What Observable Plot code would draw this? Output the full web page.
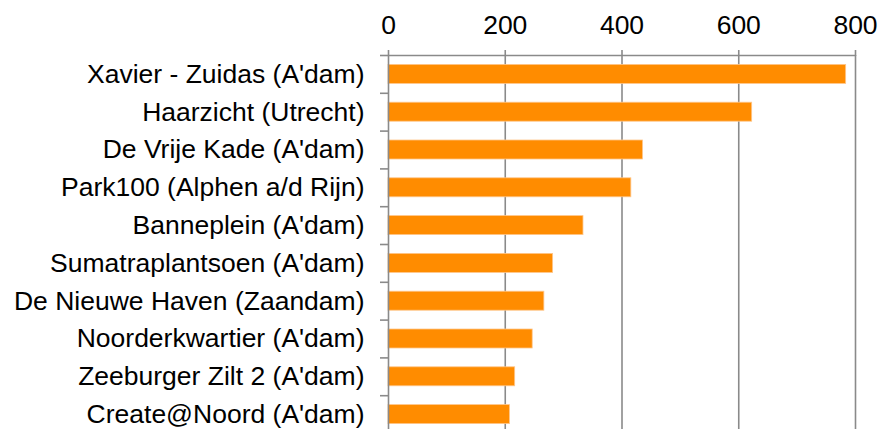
<!DOCTYPE html>
<html>
<head>
<meta charset="utf-8">
<script src="https://cdn.jsdelivr.net/npm/d3@7"></script>
<script src="https://cdn.jsdelivr.net/npm/@observablehq/plot@0.6"></script>
<style>
  html, body { margin: 0; padding: 0; background: #fff; }
  svg { display: block; }
</style>
</head>
<body>
<div id="chart"></div>
<script>
const names = [
  "Xavier - Zuidas (A'dam)",
  "Haarzicht (Utrecht)",
  "De Vrije Kade (A'dam)",
  "Park100 (Alphen a/d Rijn)",
  "Banneplein (A'dam)",
  "Sumatraplantsoen (A'dam)",
  "De Nieuwe Haven (Zaandam)",
  "Noorderkwartier (A'dam)",
  "Zeeburger Zilt 2 (A'dam)",
  "Create@Noord (A'dam)"
];
const values = [784, 623, 436, 416, 334, 282, 267, 247, 217, 208];
const xTicks = [0, 200, 400, 600, 800];

const data = names.map((name, i) => ({name, value: values[i], i}));
const boundaries = d3.range(names.length + 1);
const FONT = "'Liberation Sans', Arial, sans-serif";

const chart = Plot.plot({
  width: 881,
  height: 433,
  marginLeft: 388,
  marginRight: 26,
  marginTop: 55,
  marginBottom: 0,
  style: {fontFamily: FONT, fontSize: "26.5px", color: "#000", background: "#fff"},
  x: {domain: [0, 800], range: [388, 855]},
  y: {domain: [0, names.length], reverse: true, axis: null},
  marks: [
    Plot.ruleX(xTicks.slice(1), {stroke: "#8a8a8a", strokeWidth: 1.6, strokeOpacity: 1}),
    Plot.rectX(data, {
      x1: 0, x2: "value",
      y1: d => d.i, y2: d => d.i + 1,
      insetTop: 9.4, insetBottom: 9.4,
      fill: "#ff8c00", stroke: "#ffc68a", strokeWidth: 0.8
    }),
    Plot.ruleY([0], {y: () => 0, stroke: "#8a8a8a", strokeWidth: 1.6}),
    Plot.ruleX([0], {stroke: "#8a8a8a", strokeWidth: 1.6}),
    Plot.axisX({
      anchor: "top", ticks: xTicks, tickSize: 6, tickPadding: 16,
      stroke: "#8a8a8a", strokeWidth: 1.6, strokeOpacity: 1,
      fill: "#000", fontSize: 26.5, fontFamily: FONT, label: null
    }),
    Plot.axisY({
      anchor: "left", ticks: boundaries, tickSize: 8, tickFormat: () => "",
      stroke: "#8a8a8a", strokeWidth: 1.6, strokeOpacity: 1, label: null
    }),
    Plot.text(data, {
      x: 0, y: d => d.i + 0.5, text: "name",
      textAnchor: "end", dx: -24, fill: "#000", fontSize: 26.5, fontFamily: FONT
    })
  ]
});
document.getElementById("chart").appendChild(chart);
</script>
</body>
</html>
